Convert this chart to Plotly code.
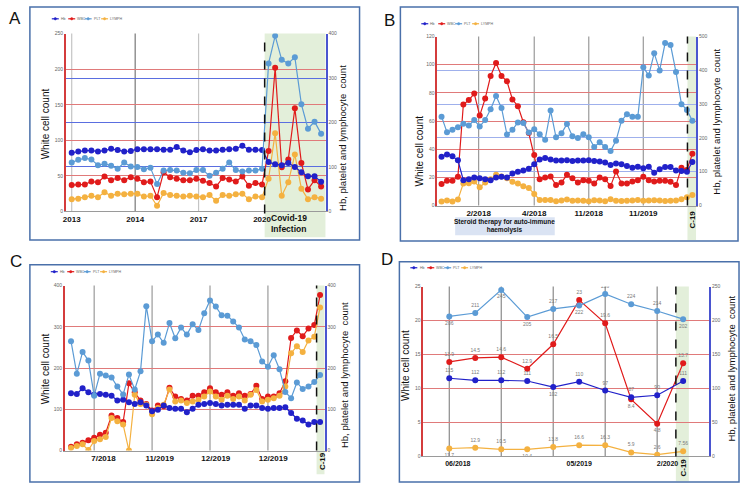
import plotly.graph_objects as go

W, H = 742, 495

# ---------------- data ----------------
series_names = ["Hb", "WBC", "PLT", "LYMPH"]

# Panel A
a_ticktext = ["2013", "2014", "2017", "2020"]
a_hb = [132, 135, 137, 137, 135, 137, 141, 138, 135, 136, 140, 140, 140, 140, 139,
        139, 145, 137, 133, 138, 140, 137, 137, 139, 140, 141, 148, 139, 139, 138,
        111, 106, 104, 109, 100, 88, 79, 79, 67]
a_wbc = [37, 38, 38, 42, 41, 49, 44, 47, 44, 48, 46, 41, 42, 20, 55,
         48, 46, 44, 44, 46, 43, 40, 35, 47, 45, 42, 49, 36, 40, 38,
         85, 202, 62, 73, 145, 68, 31, 44, 35]
a_plt = [110, 116, 120, 117, 104, 107, 103, 96, 110, 101, 100, 95, 98, 62, 92,
         93, 92, 87, 86, 93, 93, 80, 87, 96, 110, 93, 90, 92, 92, 96,
         333, 395, 341, 333, 347, 241, 186, 202, 175]
a_lymph = [17, 18, 20, 22, 20, 27, 22, 25, 24, 25, 25, 21, 22, 8, 26,
           23, 22, 21, 22, 21, 20, 23, 15, 23, 22, 24, 25, 17, 21, 20,
           46, 110, 22, 41, 80, 32, 17, 20, 18]

# Panel B
b_ticktext = ["2/2018", "4/2018", "11/2018", "11/2019"]
b_hb = [144, 151, 146, 134, 75, 78, 83, 81, 78, 75, 83, 85, 83, 95, 100, 104,
        109, 122, 136, 141, 136, 133, 133, 134, 132, 133, 133, 134, 132, 130,
        127, 120, 124, 122, 117, 112, 115, 110, 115, 97, 107, 114, 114, 104,
        102, 100, 129]
b_wbc = [15.2, 17.6, 17.6, 20.4, 71.8, 74.9, 79.5, 63.9, 76, 92, 101.3, 92,
         88.2, 75.3, 70.6, 59.2, 51.5, 35.8, 18.7, 19.9, 20.6, 14.5, 16.4, 21.8,
         19.4, 16.4, 18, 17.6, 15.7, 19.9, 18.7, 13.8, 24.1, 15.7, 15.7, 17.1,
         18, 20.4, 18, 17.1, 17.6, 17.6, 16.9, 14.5, 26.9, 25.3, 36.7]
b_plt = [263, 217, 224, 232, 242, 237, 253, 234, 253, 285, 324, 289, 210, 224,
         246, 244, 216, 226, 211, 195, 281, 202, 214, 241, 205, 200, 211, 202,
         173, 187, 173, 161, 192, 251, 270, 263, 263, 409, 385, 451, 400, 481,
         475, 395, 300, 283, 251]
b_lymph = [2.8, 3.5, 2.8, 4.2, 15.7, 15.9, 17.1, 12.9, 16.4, 18.7, 21.8, 20.6,
           19.4, 16.9, 15.7, 13.6, 12.4, 8.2, 4, 4, 4, 3, 3.5, 4.2, 3.3, 3.5,
           3.3, 3, 3.8, 3.5, 3, 4.5, 3.4, 3.2, 3.4, 3.6, 4, 3.3, 3.5, 3.8, 3.5,
           3.2, 3.4, 3.6, 4.5, 5.9, 7.5]

# Panel C
c_ticktext = ["7/2018", "11/2019", "12/2019", "12/2019"]
c_hb = [139, 137, 151, 141, 135, 137, 135, 133, 121, 123, 117, 113, 117, 109,
        95, 99, 109, 103, 101, 101, 93, 101, 111, 113, 115, 113, 109, 111, 111,
        111, 101, 109, 109, 103, 101, 103, 103, 105, 91, 77, 73, 63, 69, 69]
c_wbc = [9, 15, 19, 25, 31, 38, 43, 85, 79, 69, 163, 141, 121, 113, 97, 109,
         107, 152, 131, 125, 121, 133, 133, 141, 151, 141, 135, 141, 133, 139,
         133, 137, 157, 125, 131, 131, 139, 168, 273, 291, 277, 296, 304, 377]
c_plt = [265, 186, 239, 218, 133, 186, 182, 177, 155, 136, 184, 148, 192, 350,
         265, 281, 261, 309, 272, 298, 281, 306, 292, 333, 364, 349, 328, 327,
         313, 298, 269, 265, 256, 216, 203, 231, 197, 142, 127, 165, 149, 155,
         166, 183]
c_lymph = [6, 11, 15, 1, 23, 27, 33, 79, 71, 63, 0, 135, 113, 111, 88, 103, 111,
           148, 119, 121, 115, 119, 123, 131, 143, 131, 123, 133, 125, 131, 121,
           135, 147, 119, 123, 127, 133, 155, 236, 253, 239, 267, 276, 347]

# Panel D
d_ticktext = ["06/2018", "05/2019", "2/2020"]
d_hb = [115, 112, 112, 111, 102, 110, 97, 87, 90, 111]
d_wbc = [13.9, 14.5, 14.6, 12.9, 16.5, 23, 19.6, 8.4, 4.8, 13.7]
d_plt = [206, 211, 245, 205, 217, 222, 239, 224, 214, 202]
d_lymph = [11.7, 12.9, 10.5, 10.4, 13.8, 16.6, 16.3, 5.9, 2.6, 7.56]

# ---------------- style ----------------
HB_C, WBC_C, PLT_C, LYM_C = "#2121c9", "#e01b1b", "#5b9bd5", "#f4b140"
COLORS = [HB_C, WBC_C, PLT_C, LYM_C]
FONT = "Liberation Sans"
GREEN = "#e3efda"


def px_x(p):
    return p / W


def px_y(p):
    return 1 - p / H


fig = go.Figure()
shapes = []
annotations = []
layout = {}


def ann(text, x, y, size, angle=0, bold=False, xanchor="center", color="#111"):
    annotations.append(dict(text=f"<b>{text}</b>" if bold else text,
                            x=px_x(x), y=px_y(y), xref="paper", yref="paper",
                            showarrow=False, textangle=angle, xanchor=xanchor,
                            yanchor="middle", borderpad=0,
                            font=dict(size=size, color=color, family=FONT)))


def legend_row(x0, y, step):
    # small legend drawn in paper space
    for j, (name, col) in enumerate(zip(series_names, COLORS)):
        lx = x0 + j * step
        shapes.append(dict(type="line", xref="paper", yref="paper",
                           x0=px_x(lx), x1=px_x(lx + 7), y0=px_y(y), y1=px_y(y),
                           line=dict(color=col, width=1.2), layer="above"))
        shapes.append(dict(type="circle", xref="paper", yref="paper",
                           x0=px_x(lx + 2.3), x1=px_x(lx + 4.7),
                           y0=px_y(y + 1.2), y1=px_y(y - 1.2),
                           fillcolor=col, line=dict(color=col, width=0.5),
                           layer="above"))
        ann(name, lx + 8.2, y, 3.6, xanchor="left", color="#666")


def add_panel(k, series, xdom, ydom, xrange, lrange, rrange, tickvals, ticktext,
              vgrid, vgrid_color, right_grid, right_grid_color,
              label_font, labels=None):
    xid = "x" if k == 1 else f"x{k}"
    ylid = "y" if k == 1 else f"y{2 * k - 1}"
    yrid = f"y{2 * k}"
    xkey = "xaxis" if k == 1 else f"xaxis{k}"
    ylkey = "yaxis" if k == 1 else f"yaxis{2 * k - 1}"
    yrkey = f"yaxis{2 * k}"
    for j, (name, vals, color, side) in enumerate(series):
        tr = dict(x=list(range(len(vals))), y=vals, name=name,
                  mode="lines+markers",
                  line=dict(color=color, width=1.2),
                  marker=dict(color=color, size=6),
                  xaxis=xid, yaxis=ylid if side == "L" else yrid,
                  showlegend=False)
        if labels is not None:
            tr["mode"] = "lines+markers+text"
            tr["text"] = [str(v) for v in vals]
            tr["textposition"] = labels[j]
            tr["textfont"] = dict(size=5, color="#7a7a7a", family=FONT)
        fig.add_trace(go.Scatter(**tr))
    layout[xkey] = dict(domain=[px_x(xdom[0]), px_x(xdom[1])], range=xrange,
                        anchor=ylid, tickmode="array", tickvals=tickvals,
                        ticktext=[f"<b>{t}</b>" for t in ticktext],
                        tickfont=dict(size=label_font, color="#111", family=FONT),
                        showgrid=False, zeroline=False, showline=True,
                        linecolor="#9a9a9a", linewidth=1, ticks="")
    layout[ylkey] = dict(domain=[px_y(ydom[1]), px_y(ydom[0])],
                         range=[0, lrange[0]], dtick=lrange[1], tick0=0,
                         anchor=xid, tickfont=dict(size=5, color="#666", family=FONT),
                         showgrid=True, gridcolor="#e07a7a", gridwidth=1,
                         zeroline=False, showline=True, linecolor="#d43c3c",
                         linewidth=1.5, ticks="")
    layout[yrkey] = dict(overlaying=ylid, side="right", anchor=xid,
                         range=[0, rrange[0]], dtick=rrange[1], tick0=0,
                         tickfont=dict(size=5, color="#666", family=FONT),
                         showgrid=right_grid, gridcolor=right_grid_color,
                         gridwidth=1.2, zeroline=False, showline=True,
                         linecolor="#4a55d0", linewidth=1.5, ticks="")
    for xv, col in zip(vgrid, vgrid_color):
        shapes.append(dict(type="line", xref=xid, yref=f"{ylid} domain",
                           x0=xv, x1=xv, y0=0, y1=1,
                           line=dict(color=col, width=1.2), layer="below"))
    return xid


def covid(xid, x0, x1, gy0, gy1, dy0, dy1):
    shapes.append(dict(type="rect", xref=xid, yref="paper", x0=x0, x1=x1,
                       y0=px_y(gy1), y1=px_y(gy0), fillcolor=GREEN,
                       line=dict(width=0), layer="below"))
    shapes.append(dict(type="line", xref=xid, yref="paper", x0=x0, x1=x0,
                       y0=px_y(dy1), y1=px_y(dy0),
                       line=dict(color="#111", width=1.5, dash="dash"),
                       layer="above"))


# ---------- Panel A ----------
xa = add_panel(1, [("Hb", a_hb, HB_C, "R"), ("WBC", a_wbc, WBC_C, "L"),
                   ("PLT", a_plt, PLT_C, "R"), ("LYMPH", a_lymph, LYM_C, "L")],
               (63, 324), (31, 211), [-0.91, 38.7], (250, 50), (400, 100),
               [0, 9.67, 19.33, 29.0], a_ticktext,
               [0, 9.67, 19.33], ["#c4c4c4", "#777777", "#c4c4c4"],
               True, "#5a6ee0", 8)
covid(xa, 29.4, 38.7, 31, 237, 31, 213)
legend_row(49, 16, 16.5)

# ---------- Panel B ----------
xb = add_panel(2, [("Hb", b_hb, HB_C, "R"), ("WBC", b_wbc, WBC_C, "L"),
                   ("PLT", b_plt, PLT_C, "R"), ("LYMPH", b_lymph, LYM_C, "L")],
               (436, 696), (34, 205), [-0.79, 46.7], (120, 20), (500, 100),
               [6.8, 17, 27, 37], b_ticktext,
               [6.8, 17, 27, 37], ["#9a9a9a"] * 4,
               True, "#9fb0ec", 8)
covid(xb, 45.1, 46.7, 34, 240, 34, 205)
legend_row(420, 21, 17)

# ---------- Panel C ----------
xc = add_panel(3, [("Hb", c_hb, HB_C, "R"), ("WBC", c_wbc, WBC_C, "L"),
                   ("PLT", c_plt, PLT_C, "R"), ("LYMPH", c_lymph, LYM_C, "L")],
               (62, 323), (286, 453), [-1.08, 43.8], (400, 100), (400, 100),
               [5.6, 15.3, 25.0, 34.9], c_ticktext,
               [4, 14, 24, 34], ["#9a9a9a"] * 4,
               False, "#5a6ee0", 8)
covid(xc, 42.4, 43.8, 286, 477, 286, 453)
legend_row(48, 272, 16.5)

# ---------- Panel D ----------
d_labels = [
    ["top center"] * 4 + ["bottom center"] + ["top center"] * 5,
    ["top center", "top center", "top center", "top center", "top center",
     "top center", "top center", "bottom center", "bottom center", "top center"],
    ["bottom center", "top center", "bottom center", "bottom center", "top center",
     "bottom center", "top center", "top center", "top center", "bottom center"],
    ["bottom center", "top center", "top center", "bottom center", "top center",
     "top center", "top center", "top center", "top center", "top center"],
]
xd = add_panel(4, [("Hb", d_hb, HB_C, "R"), ("WBC", d_wbc, WBC_C, "L"),
                   ("PLT", d_plt, PLT_C, "R"), ("LYMPH", d_lymph, LYM_C, "R")],
               (422, 709), (287, 459), [-1.0, 10.0], (25, 5), (250, 50),
               [0.33, 5.0, 8.4], d_ticktext,
               [0, 2, 4, 6, 8], ["#8a8a8a"] * 5,
               False, "#5a6ee0", 7, labels=d_labels)
covid(xd, 8.72, 9.22, 287, 484, 287, 459)
legend_row(409, 268, 17)

# ---------- panel frames ----------
for (x0, y0, x1, y1) in [(27, 4, 358, 240), (399, 4, 738, 241),
                         (27, 265, 358, 485), (398, 262, 739, 485)]:
    shapes.append(dict(type="rect", xref="paper", yref="paper",
                       x0=px_x(x0), x1=px_x(x1), y0=px_y(y1), y1=px_y(y0),
                       line=dict(color="#4a70aa", width=1.5),
                       fillcolor="rgba(0,0,0,0)", layer="below"))

# steroid therapy box (panel B)
shapes.append(dict(type="rect", xref="paper", yref="paper",
                   x0=px_x(454), x1=px_x(554), y0=px_y(235), y1=px_y(217),
                   fillcolor="#dae3f3", line=dict(width=0), layer="below"))
ann("Steroid therapy for auto-immune<br>haemolysis", 504, 226, 6.5, bold=True)

# panel letters
ann("A", 12, 16, 17)
ann("B", 388, 18, 17)
ann("C", 13, 262, 17)
ann("D", 386, 260, 17)

# axis titles
LT = "White cell count"
RT = "Hb, platelet and lymphocyte  count"
ann(LT, 43, 122, 10, angle=-90)
ann(RT, 341, 137, 9.5, angle=-90)
ann(LT, 418, 150, 10, angle=-90)
ann(RT, 716, 120, 9.5, angle=-90)
ann(LT, 43, 370, 10, angle=-90)
ann(RT, 343, 377, 9.5, angle=-90)
ann(LT, 404, 367, 10, angle=-90)
ann(RT, 731, 370, 9.5, angle=-90)

# covid texts
ann("Covid-19", 268, 218, 8.5, bold=True, xanchor="left")
ann("Infection", 268, 229, 8.5, bold=True, xanchor="left")
ann("C-19", 692, 219, 8, angle=-90, bold=True)
ann("C-19", 321, 464, 8, angle=-90, bold=True)
ann("C-19", 683, 470, 8, angle=-90, bold=True)

fig.update_layout(
    width=W, height=H, margin=dict(l=0, r=0, t=0, b=0),
    paper_bgcolor="white", plot_bgcolor="white",
    font=dict(family=FONT, color="#111"),
    shapes=shapes, annotations=annotations, showlegend=False,
    **layout,
)

fig.write_html("out.html",
               config={"displayModeBar": False},
               post_script="document.body.style.margin='0';"
                           "document.body.style.padding='0';")
